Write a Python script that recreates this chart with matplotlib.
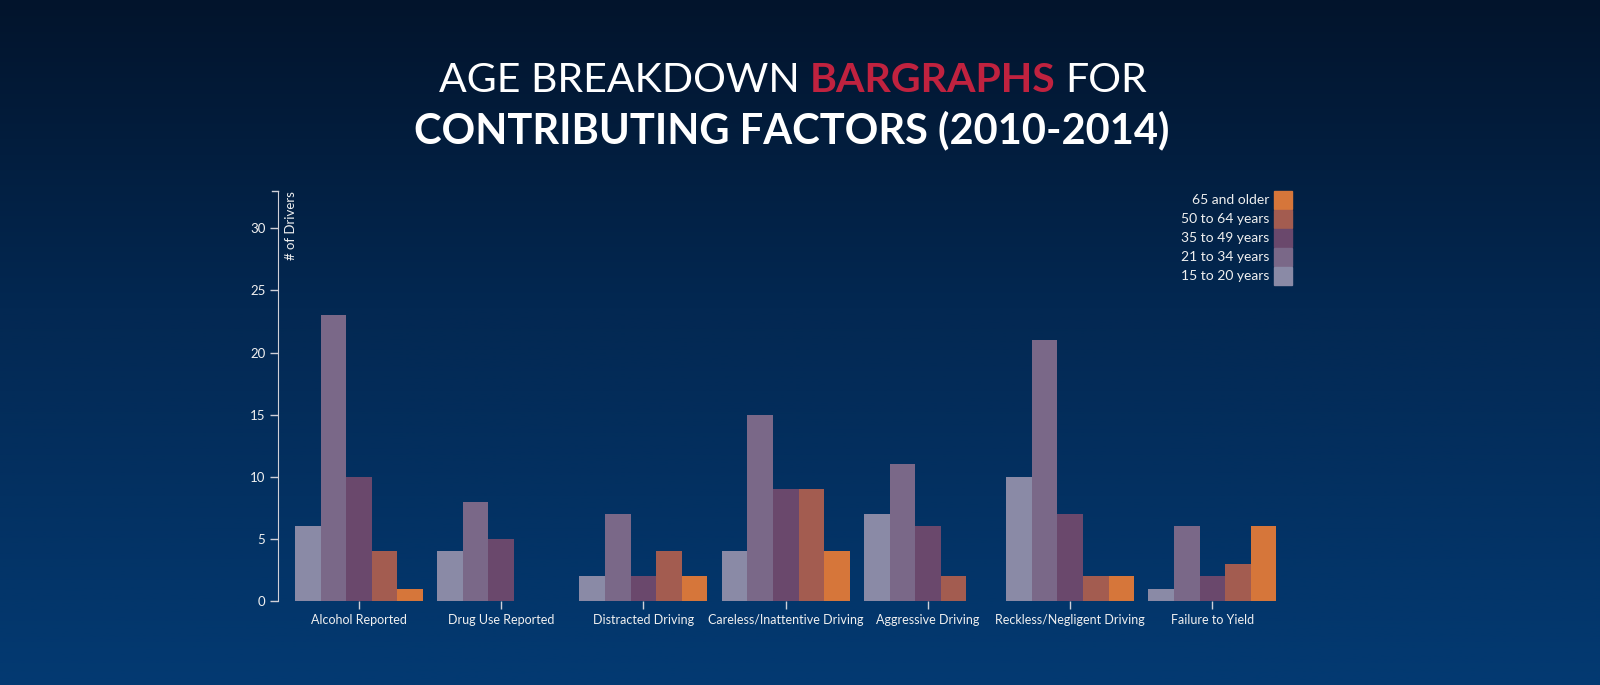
import numpy as np
import matplotlib.pyplot as plt
from matplotlib.patches import Rectangle
from matplotlib.lines import Line2D

# ----------------------------------------------------------------------------------------------------
# data
factors = ["Alcohol Reported", "Drug Use Reported", "Distracted Driving",
           "Careless/Inattentive Driving", "Aggressive Driving",
           "Reckless/Negligent Driving", "Failure to Yield"]
age_groups = ["15 to 20 years", "21 to 34 years", "35 to 49 years", "50 to 64 years", "65 and older"]
age_15_20 = [6, 4, 2, 4, 7, 10, 1]
age_21_34 = [23, 8, 7, 15, 11, 21, 6]
age_35_49 = [10, 5, 2, 9, 6, 7, 2]
age_50_64 = [4, 0, 4, 9, 2, 2, 3]
age_65_up = [1, 0, 2, 4, 0, 2, 6]
y_ticks = [0, 5, 10, 15, 20, 25, 30]

series = [age_15_20, age_21_34, age_35_49, age_50_64, age_65_up]
colors = ["#8a8aa6", "#7a6888", "#6a486c", "#a35c50", "#d6763a"]
# ----------------------------------------------------------------------------------------------------
W, H = 1600, 685
plt.rcParams['font.family'] = ['Lato', 'DejaVu Sans']

def fx(px):
    return px / W

def fy(py):
    return 1 - py / H

fig = plt.figure(figsize=(W / 100, H / 100), dpi=100)

# background gradient
bg = fig.add_axes([0, 0, 1, 1], zorder=-10)
top = np.array([2, 20, 44]) / 255
mid = np.array([3, 40, 82]) / 255
bot = np.array([3, 58, 114]) / 255
rows = []
for v in np.linspace(0, 1, 256):
    if v < 0.45:
        rows.append(top + (mid - top) * v / 0.45)
    else:
        rows.append(mid + (bot - mid) * (v - 0.45) / 0.55)
img = np.array(rows)[:, None, :].repeat(2, axis=1)
bg.imshow(img, aspect='auto', extent=[0, 1, 0, 1])
bg.axis('off')

# main axes
ax = fig.add_axes([fx(278), fy(601), fx(1292) - fx(278), fy(191) - fy(601)])
ax.set_facecolor('none')
x = np.arange(len(factors))
bw = 0.18
for i, (vals, c) in enumerate(zip(series, colors)):
    ax.bar(x - 0.45 + bw * (i + 0.5), vals, width=bw, color=c, linewidth=0)

ax.set_xlim(-0.57, 6.56)
ax.set_ylim(0, 33)
ax.set_yticks(y_ticks)
ax.set_xticks(x)
ax.set_xticklabels(factors)
for s in ['top', 'right', 'bottom']:
    ax.spines[s].set_visible(False)
ax.spines['left'].set_color('#d0d0d8')
ax.tick_params(axis='both', colors='#d0d0d8', labelcolor='#f0f0f0', labelsize=9, length=6, width=1)
ax.tick_params(axis='x', pad=3)
ax.tick_params(axis='y', pad=3, labelsize=9.5)

# outer tick at top of y axis
fig.add_artist(Line2D([fx(272), fx(278)], [fy(191), fy(191)], color='#d0d0d8', lw=1))

fig.text(fx(291), fy(191), "# of Drivers", rotation=90, ha='center', va='top',
         color='#f0f0f0', fontsize=9.5)

# legend
for i, (lab, c) in enumerate(zip(age_groups[::-1], colors[::-1])):
    ytop = 191 + 19 * i
    fig.add_artist(Rectangle((fx(1274), fy(ytop + 18)), fx(18), 18 / H, color=c,
                             transform=fig.transFigure))
    fig.text(fx(1269), fy(ytop + 9), lab, ha='right', va='center', color='#f0f0f0', fontsize=10)

# title
fig.canvas.draw()
renderer = fig.canvas.get_renderer()

def title_line(pieces, base_y, cx=785, gap=11, size=30):
    texts = []
    for s, col, wt in pieces:
        texts.append(fig.text(0, fy(base_y), s, color=col, fontsize=size, fontweight=wt,
                              ha='left', va='baseline'))
    widths = [tt.get_window_extent(renderer).width for tt in texts]
    total = sum(widths) + gap * (len(texts) - 1)
    pos = cx - total / 2
    for tt, w in zip(texts, widths):
        tt.set_x(fx(pos))
        pos += w + gap

title_line([("AGE BREAKDOWN", 'white', 'normal'),
            ("BARGRAPHS", '#c0223f', 'bold'),
            ("FOR", 'white', 'normal')], 92, cx=793, gap=10, size=29.5)
title_line([("CONTRIBUTING FACTORS (2010-2014)", 'white', 'bold')], 143, cx=792)

fig.savefig('out.png', dpi=100)
